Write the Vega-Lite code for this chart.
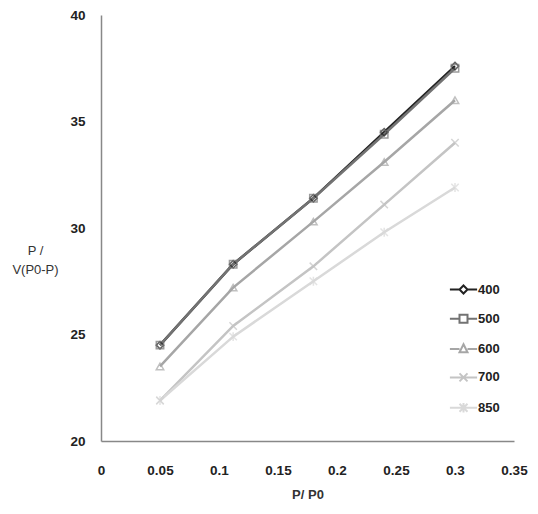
{
  "$schema": "https://vega.github.io/schema/vega-lite/v6.json",
  "width": 413,
  "height": 426,
  "autosize": "none",
  "padding": {"left": 101, "top": 15, "right": 24, "bottom": 73},
  "background": "white",
  "config": {
    "view": {"stroke": null},
    "font": "Liberation Sans",
    "axis": {"grid": false, "ticks": false, "domainColor": "#888", "domainWidth": 1.5, "labelFontWeight": "bold", "labelFontSize": 13.5, "labelColor": "#222", "titleColor": "#333"}
  },
  "data": {
    "values": [
      {"x": 0.05, "y": 24.5, "s": "400", "k": "a"},
      {"x": 0.112, "y": 28.3, "s": "400", "k": "a"},
      {"x": 0.18, "y": 31.4, "s": "400", "k": "a"},
      {"x": 0.24, "y": 34.5, "s": "400", "k": "a"},
      {"x": 0.3, "y": 37.6, "s": "400", "k": "a"},
      {"x": 0.05, "y": 24.5, "s": "500", "k": "b"},
      {"x": 0.112, "y": 28.3, "s": "500", "k": "b"},
      {"x": 0.18, "y": 31.4, "s": "500", "k": "b"},
      {"x": 0.24, "y": 34.4, "s": "500", "k": "b"},
      {"x": 0.3, "y": 37.5, "s": "500", "k": "b"},
      {"x": 0.05, "y": 23.5, "s": "600", "k": "c"},
      {"x": 0.112, "y": 27.2, "s": "600", "k": "c"},
      {"x": 0.18, "y": 30.3, "s": "600", "k": "c"},
      {"x": 0.24, "y": 33.1, "s": "600", "k": "c"},
      {"x": 0.3, "y": 36.0, "s": "600", "k": "c"},
      {"x": 0.05, "y": 21.9, "s": "700", "k": "d"},
      {"x": 0.112, "y": 25.4, "s": "700", "k": "d"},
      {"x": 0.18, "y": 28.2, "s": "700", "k": "d"},
      {"x": 0.24, "y": 31.1, "s": "700", "k": "d"},
      {"x": 0.3, "y": 34.0, "s": "700", "k": "d"},
      {"x": 0.05, "y": 21.9, "s": "850", "k": "e"},
      {"x": 0.112, "y": 24.9, "s": "850", "k": "e"},
      {"x": 0.18, "y": 27.5, "s": "850", "k": "e"},
      {"x": 0.24, "y": 29.8, "s": "850", "k": "e"},
      {"x": 0.3, "y": 31.9, "s": "850", "k": "e"}
    ]
  },
  "encoding": {
    "x": {"field": "x", "type": "quantitative", "scale": {"domain": [0, 0.35], "nice": false},
      "axis": {"values": [0, 0.05, 0.1, 0.15, 0.2, 0.25, 0.3, 0.35], "format": "~g", "labelPadding": 22, "title": "P/ P0", "titleFontSize": 13, "titleFontWeight": "bold", "titlePadding": 12, "labelFlush": false}},
    "y": {"field": "y", "type": "quantitative", "scale": {"domain": [20, 40], "nice": false, "zero": false},
      "axis": {"values": [20, 25, 30, 35, 40], "labelPadding": 16, "title": ["P /", "V(P0-P)"], "titleAngle": 0, "titleFontSize": 13, "titleFontWeight": "normal", "titleAlign": "center", "titleBaseline": "middle", "titleX": -66, "titleY": 235, "titleLineHeight": 19}},
    "color": {"field": "s", "type": "nominal", "scale": {"domain": ["400", "500", "600", "700", "850"], "range": ["#222222", "#737373", "#a6a6a6", "#c4c4c4", "#d9d9d9"]},
      "legend": {"orient": "none", "legendX": 356, "legendY": 268, "title": null, "symbolSize": 64, "symbolStrokeWidth": 2, "labelFontSize": 13, "labelFontWeight": "bold", "labelColor": "#222", "rowPadding": 12.3, "labelOffset": 8,
        "encode": {"symbols": {"update": {
          "fill": {"value": "transparent"},
          "shape": {"signal": "datum.value === '400' ? 'M-3.4,0L-1,0M1,0L3.4,0M0,-1L1,0L0,1L-1,0Z' : datum.value === '500' ? 'M-3.4,0L-1,0M1,0L3.4,0M-1,-1L1,-1L1,1L-1,1Z' : datum.value === '600' ? 'M-3.4,0L-1,0M1,0L3.4,0M0,-1.2L1,0.8L-1,0.8Z' : datum.value === '700' ? 'M-3.4,0L3.4,0M-1,-1L1,1M-1,1L1,-1' : 'M-3.4,0L3.4,0M-1,-1L1,1M-1,1L1,-1M0,-1.2L0,1.2'"}
        }}}}}
  },
  "layer": [
    {"mark": {"type": "line", "strokeWidth": 2.5}},
    {"mark": {"type": "point", "filled": false, "strokeWidth": 1.5, "size": 55},
      "encoding": {
        "shape": {"field": "k", "type": "nominal", "scale": {"domain": ["a", "b", "c", "d", "e"], "range": ["diamond", "square", "triangle-up", "M-1,-1L1,1M-1,1L1,-1", "M-1,-1L1,1M-1,1L1,-1M0,-1.2L0,1.2"]}, "legend": null}}}
  ]
}
